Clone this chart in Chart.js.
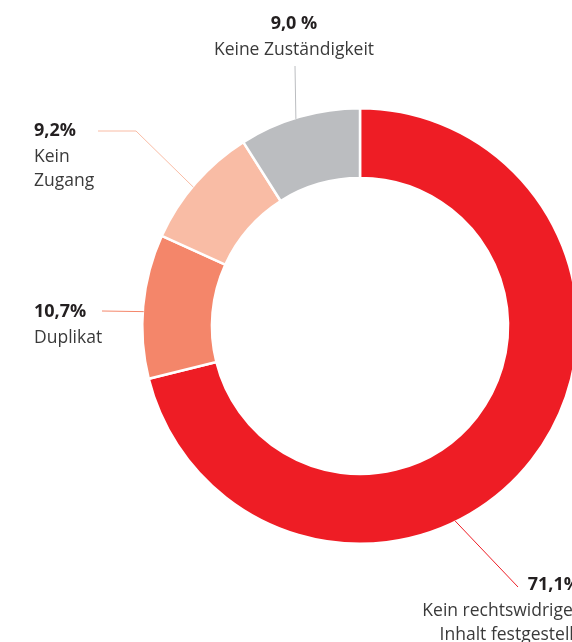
<!DOCTYPE html>
<html>
<head>
<meta charset="utf-8">
<script src="https://cdn.jsdelivr.net/npm/chart.js@4.4.1/dist/chart.umd.min.js"></script>
<style>
  html, body { margin: 0; padding: 0; background: #fff; overflow: hidden; }
  #wrap { position: relative; width: 600px; height: 642px; }
</style>
</head>
<body>
<div id="wrap"><canvas id="chart" width="600" height="642"></canvas></div>
<script>
// Doughnut: Gründe ohne Maßnahme (share in %)
const categories = ['Kein rechtswidriger Inhalt festgestellt', 'Duplikat', 'Kein Zugang', 'Keine Zuständigkeit'];
const values = [71.1, 10.7, 9.2, 9.0];
const valueLabels = ['71,1%', '10,7%', '9,2%', '9,0 %'];
const colors = ['#EE1D25', '#F4866A', '#F9BCA5', '#BBBDC0'];

// label layout: text block position, text lines, leader line start (+ optional elbow), angle on ring
const labelLayout = [
  { x: 580, y: 585, align: 'right', lines: ['Kein rechtswidriger', 'Inhalt festgestellt'], from: [[518, 587]], angle: 154 },
  { x: 34, y: 312, align: 'left', lines: ['Duplikat'], from: [[102, 311]], angle: 273.8 },
  { x: 34, y: 131, align: 'left', lines: ['Kein', 'Zugang'], from: [[98, 131], [136, 131]], angle: 309.8 },
  { x: 294, y: 24, align: 'center', lines: ['Keine Zuständigkeit'], from: [[295, 66]], angle: 342.8 }
];

const labelPlugin = {
  id: 'leaderLabels',
  afterDraw(chart) {
    const ctx = chart.ctx;
    const arcs = chart.getDatasetMeta(0).data;
    ctx.save();
    labelLayout.forEach((lab, i) => {
      const arc = arcs[i];
      const a = lab.angle * Math.PI / 180;
      const ex = arc.x + Math.sin(a) * (arc.outerRadius - 1);
      const ey = arc.y - Math.cos(a) * (arc.outerRadius - 1);
      ctx.strokeStyle = colors[i];
      ctx.lineWidth = 1;
      ctx.beginPath();
      ctx.moveTo(lab.from[0][0], lab.from[0][1]);
      for (let k = 1; k < lab.from.length; k++) ctx.lineTo(lab.from[k][0], lab.from[k][1]);
      ctx.lineTo(ex, ey);
      ctx.stroke();

      ctx.textAlign = lab.align;
      ctx.textBaseline = 'middle';
      ctx.fillStyle = '#231F20';
      ctx.font = 'bold 18px "Open Sans"';
      ctx.fillText(valueLabels[i], lab.x, lab.y);
      ctx.fillStyle = '#3A3A3A';
      ctx.font = '17.5px "Open Sans"';
      lab.lines.forEach((t, j) => ctx.fillText(t, lab.x, lab.y + 26 + 24 * j));
    });
    ctx.restore();
  }
};

new Chart(document.getElementById('chart'), {
  type: 'doughnut',
  data: {
    labels: categories,
    datasets: [{
      data: values,
      backgroundColor: colors,
      borderColor: '#ffffff',
      borderWidth: 2.5,
      hoverOffset: 0
    }]
  },
  options: {
    responsive: false,
    animation: false,
    cutout: '68%',
    layout: { padding: { left: 141, top: 107, right: 21, bottom: 97 } },
    plugins: {
      legend: { display: false },
      tooltip: { enabled: false }
    }
  },
  plugins: [labelPlugin]
});
</script>
</body>
</html>
